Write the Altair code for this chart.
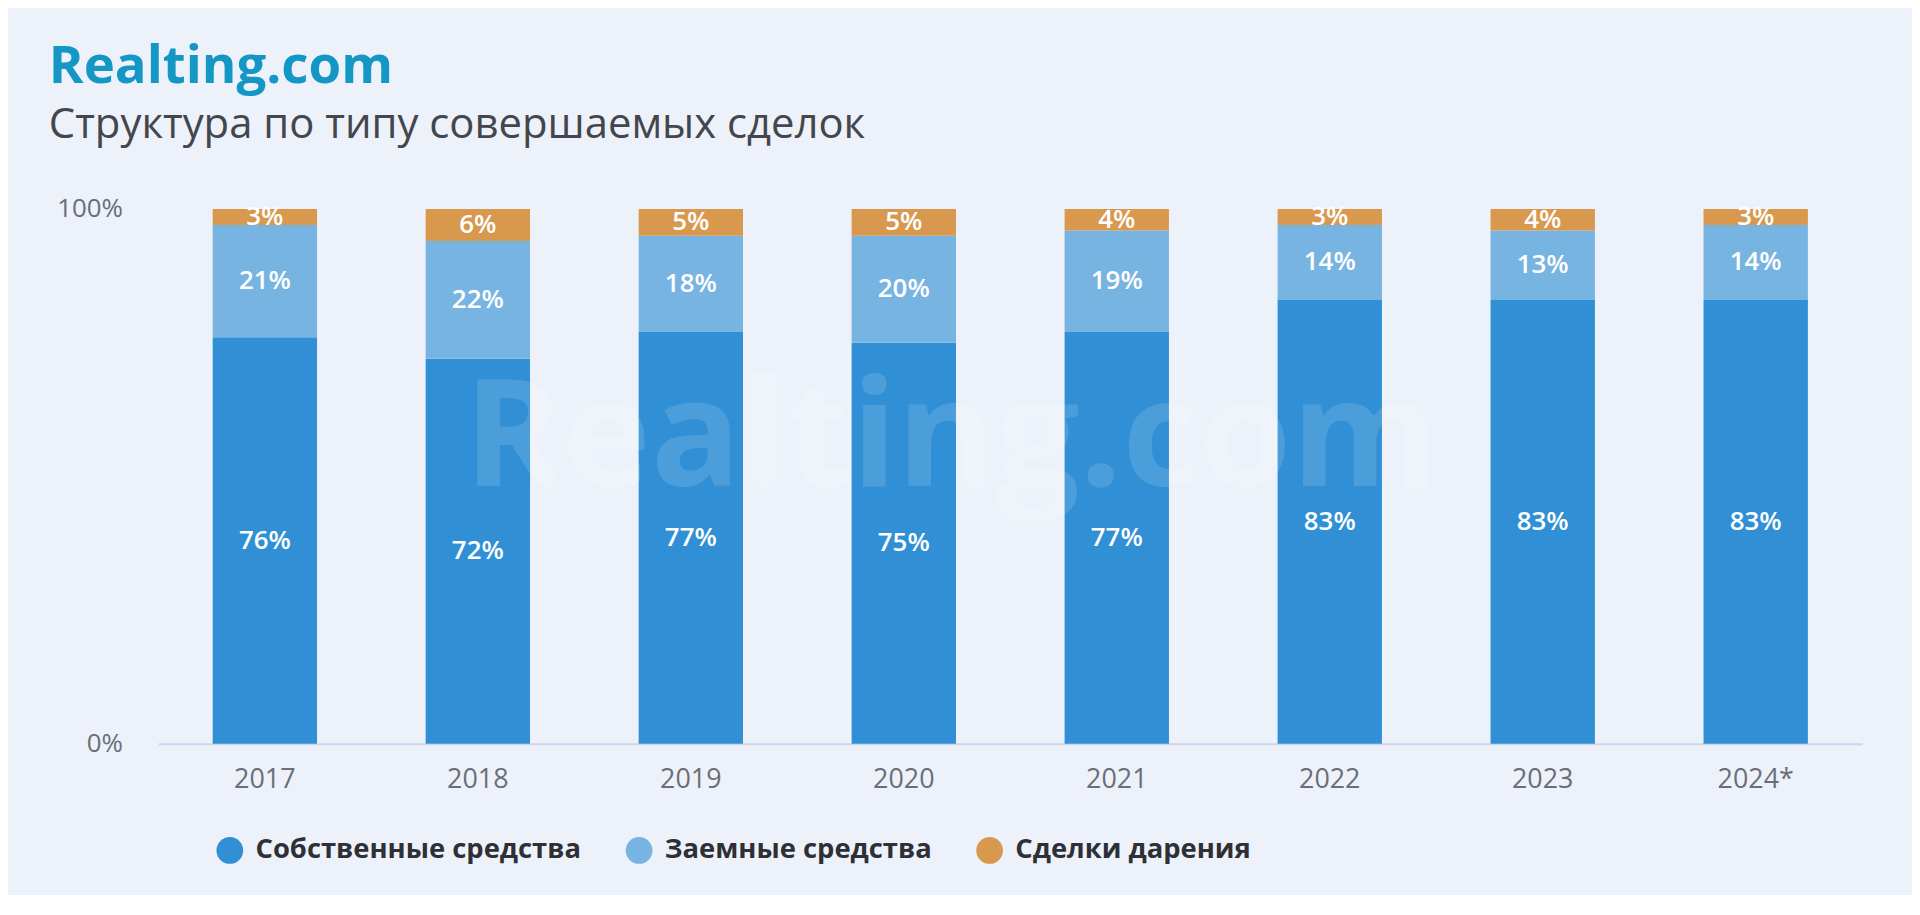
import altair as alt
import pandas as pd

years = ["2017", "2018", "2019", "2020", "2021", "2022", "2023", "2024*"]
own = [76, 72, 77, 75, 77, 83, 83, 83]
loan = [21, 22, 18, 20, 19, 14, 13, 14]
gift = [3, 6, 5, 5, 4, 3, 4, 3]
categories = ["Собственные средства", "Заемные средства", "Сделки дарения"]
colors = ["#3190D5", "#78B4E2", "#D8994F"]

rows = []
for i, y in enumerate(years):
    for k, (cat, vals) in enumerate(zip(categories, [own, loan, gift])):
        rows.append({"year": y, "cat": cat, "order": k, "value": vals[i]})
df = pd.DataFrame(rows)

FONT = "Open Sans"
BG = "#EDF2FA"

x = alt.X("year:N", sort=years, title=None,
          scale=alt.Scale(paddingInner=0.51, paddingOuter=0.255),
          axis=alt.Axis(labelAngle=0, labelFontSize=27, labelColor="#6B6E76",
                        labelPadding=23, ticks=False, domainColor="#CFD3EC",
                        domainWidth=2, labelFont=FONT, labelBaseline="top"))

base = alt.Chart(df).encode(x=x)

bars = base.mark_bar().encode(
    y=alt.Y("value:Q", stack="zero", title=None,
            scale=alt.Scale(domain=[0, 100]),
            axis=alt.Axis(values=[0, 100], labelExpr="datum.value + '%'",
                          labelFontSize=26, labelColor="#6B6E76", labelPadding=36,
                          ticks=False, domain=False, grid=False, labelFont=FONT)),
    color=alt.Color("cat:N", title=None,
                    scale=alt.Scale(domain=categories, range=colors),
                    legend=alt.Legend(orient="none", direction="horizontal",
                                      legendX=58, legendY=630,
                                      symbolType="circle", symbolSize=720,
                                      symbolStrokeWidth=0, symbolOpacity=1,
                                      labelFontSize=27.5, labelFontWeight="bold",
                                      labelColor="#2E3036", labelFont=FONT,
                                      columnPadding=44, labelOffset=12,
                                      labelLimit=600)),
    order=alt.Order("order:Q"),
)

labels = base.transform_window(
    cum="sum(value)", groupby=["year"], sort=[alt.SortField("order")]
).transform_calculate(
    mid="datum.cum - datum.value / 2",
    lab="datum.value + '%'",
).mark_text(color="white", fontSize=26, fontWeight=600, font=FONT,
            baseline="middle").encode(
    y=alt.Y("mid:Q"),
    text="lab:N",
)

watermark = alt.Chart(pd.DataFrame({"t": ["Realting.com"]})).mark_text(
    fontSize=150, fontWeight="bold", font=FONT, color="white", opacity=0.13,
    align="center", baseline="middle"
).encode(text="t:N", x=alt.value(796), y=alt.value(233))

chart = alt.layer(bars, labels, watermark).properties(
    width=1711, height=537,
    background=BG,
    padding={"left": 151, "top": 200, "right": 50, "bottom": 150},
    autosize=alt.AutoSizeParams(type="none"),
    title=alt.TitleParams(
        "Realting.com",
        subtitle="Структура по типу совершаемых сделок",
        anchor="start", frame="group", dx=-110, offset=50,
        font=FONT, fontSize=53, fontWeight="bold", color="#1597C6",
        subtitleFont=FONT, subtitleFontSize=42, subtitleColor="#43464D",
        subtitlePadding=12,
    ),
).configure(background=BG).configure_view(stroke=None, strokeWidth=0)

chart.save("out.html", embed_options={"renderer": "svg", "actions": False})
